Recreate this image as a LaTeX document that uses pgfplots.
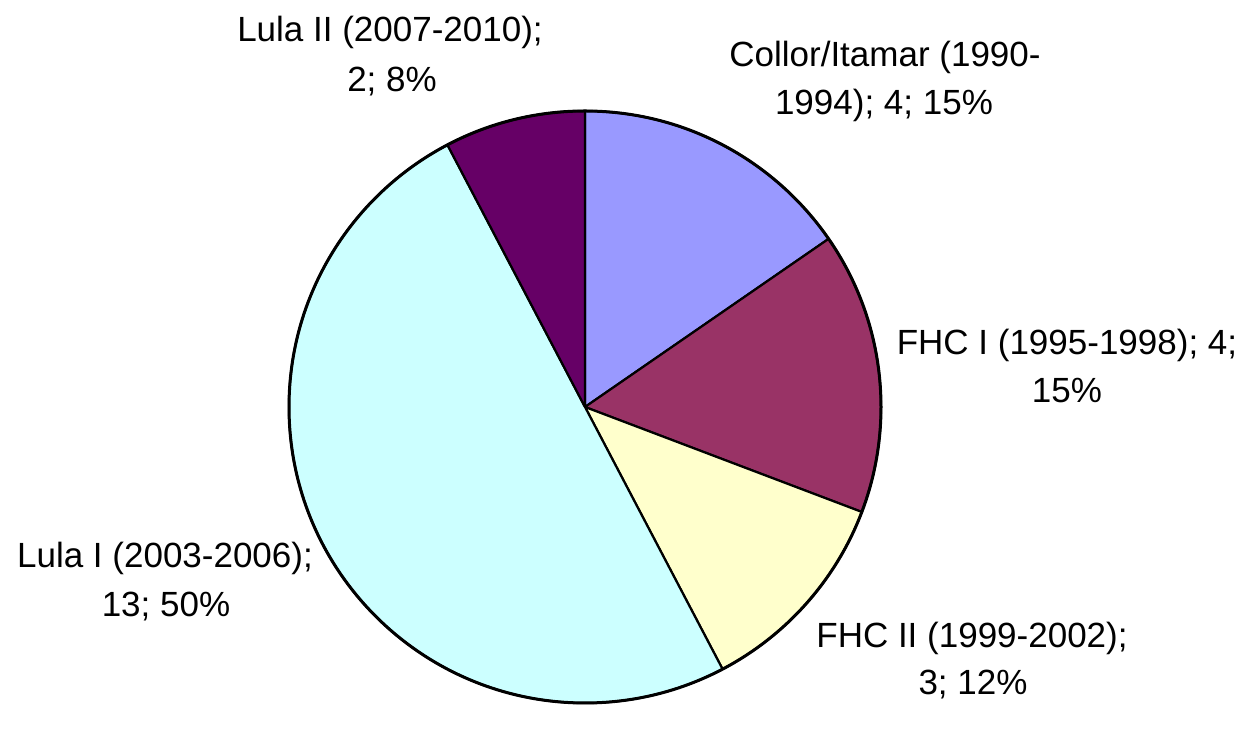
\documentclass[border=0pt]{standalone}
\usepackage{pgfplots}
\pgfplotsset{compat=1.18}
\usepackage{fontspec}
\setmainfont{Liberation Sans}
\definecolor{cA}{HTML}{9999FF}
\definecolor{cB}{HTML}{993366}
\definecolor{cC}{HTML}{FFFFCC}
\definecolor{cD}{HTML}{CCFFFF}
\definecolor{cE}{HTML}{660066}
\begin{document}
\begin{tikzpicture}
% values: Collor/Itamar 4, FHC I 4, FHC II 3, Lula I 13, Lula II 2 (total 26)
\pgfmathsetmacro{\tot}{4+4+3+13+2}
\pgfmathsetmacro{\aA}{90}
\pgfmathsetmacro{\aB}{\aA-360*4/\tot}
\pgfmathsetmacro{\aC}{\aB-360*4/\tot}
\pgfmathsetmacro{\aD}{\aC-360*3/\tot}
\pgfmathsetmacro{\aE}{\aD-360*13/\tot}
\pgfmathsetmacro{\aF}{\aE-360*2/\tot}
\begin{axis}[x=0.5pt,y=0.5pt,xmin=0,xmax=1239,ymin=0,ymax=703,
  hide axis, clip=false, scale only axis]
\path (axis cs:0,0) rectangle (axis cs:1239,703);
\tikzset{sl/.style={draw=black,line width=1.1pt,line join=round}}
\filldraw[sl,fill=cA] (axis cs:585,296) -- +(\aA:148pt) arc[start angle=\aA,end angle=\aB,radius=148pt] -- cycle;
\filldraw[sl,fill=cB] (axis cs:585,296) -- +(\aB:148pt) arc[start angle=\aB,end angle=\aC,radius=148pt] -- cycle;
\filldraw[sl,fill=cC] (axis cs:585,296) -- +(\aC:148pt) arc[start angle=\aC,end angle=\aD,radius=148pt] -- cycle;
\filldraw[sl,fill=cD] (axis cs:585,296) -- +(\aD:148pt) arc[start angle=\aD,end angle=\aE,radius=148pt] -- cycle;
\filldraw[sl,fill=cE] (axis cs:585,296) -- +(\aE:148pt) arc[start angle=\aE,end angle=\aF,radius=148pt] -- cycle;
\draw[black,line width=1.5pt] (axis cs:585,296) circle[radius=148pt];
\tikzset{lb/.style={anchor=base,inner sep=0pt,font=\fontsize{17.5}{21}\selectfont}}
% Lula II
\node[lb] at (axis cs:390,661) {Lula II (2007-2010);};
\node[lb] at (axis cs:392,611) {2; 8\%};
% Collor
\node[lb] at (axis cs:885,636) {Collor/Itamar (1990-};
\node[lb] at (axis cs:884,588) {1994); 4; 15\%};
% FHC I
\node[lb] at (axis cs:1067,348) {FHC I (1995-1998); 4;};
\node[lb] at (axis cs:1067,300) {15\%};
% FHC II
\node[lb] at (axis cs:972,55) {FHC II (1999-2002);};
\node[lb] at (axis cs:973,8) {3; 12\%};
% Lula I
\node[lb] at (axis cs:165,135) {Lula I (2003-2006);};
\node[lb] at (axis cs:166,86) {13; 50\%};
\end{axis}
\end{tikzpicture}
\end{document}
